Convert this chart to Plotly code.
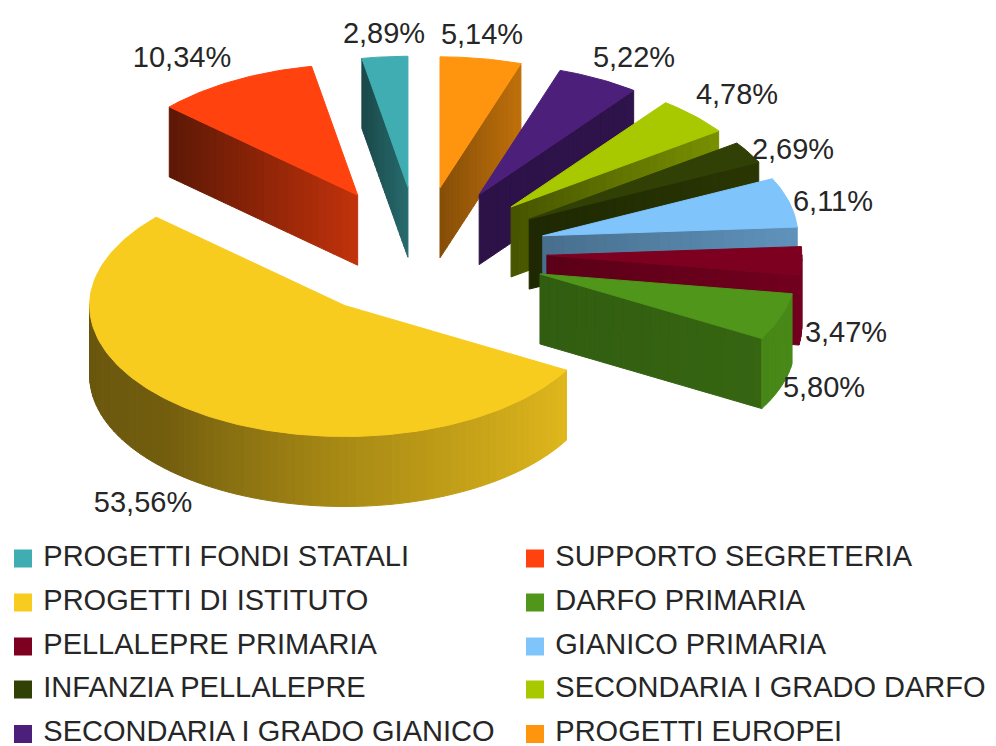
import math
import numpy as np
import plotly.graph_objects as go

# --- data (counter-clockwise from 12 o'clock) ---
categories = ["PROGETTI FONDI STATALI", "SUPPORTO SEGRETERIA", "PROGETTI DI ISTITUTO",
              "DARFO PRIMARIA", "PELLALEPRE PRIMARIA", "GIANICO PRIMARIA",
              "INFANZIA PELLALEPRE", "SECONDARIA I GRADO DARFO",
              "SECONDARIA I GRADO GIANICO", "PROGETTI EUROPEI"]
values = [2.89, 10.34, 53.56, 5.80, 3.47, 6.11, 2.69, 4.78, 5.22, 5.14]

# --- styles ---
colors = ["#3fadb1", "#ff420e", "#f8cb1f", "#4f961a", "#7e0021",
          "#7fc4fb", "#314004", "#a8c800", "#4b1f7a", "#ff950e"]
# wall shade near the apex and at the rim
wall_shade = [(0.62, 0.42), (0.76, 0.36), (0.5, 0.5), (0.62, 0.68), (0.72, 0.9),
              (0.56, 0.75), (0.62, 0.85), (0.42, 0.72), (0.58, 0.62), (0.52, 0.75)]
draw_order = [0, 9, 1, 8, 7, 6, 5, 4, 3, 2]

label_x = [384, 182, 143, 824, 846, 833, 793, 737, 634, 482]
label_y = [36, 60, 505, 390, 335, 204, 152, 97, 60, 37]

# --- projection of the tilted pie, in pixel-scaled axis units ---
CX, CY, RX, RY, PULL, DEPTH = 419.5, 252.5, 255.0, 131.0, 0.5, 70.0
STRIPS = 24


def mix(hex_color, k):
    r, g, b = (int(hex_color[i:i + 2], 16) for i in (1, 3, 5))
    return f"rgb({r * k:.0f},{g * k:.0f},{b * k:.0f})"


def rim_shade(deg):
    return float(np.interp(deg % 360, [180, 225, 270, 300, 330, 360], [0.42, 0.46, 0.68, 0.8, 0.9, 0.92]))


fig = go.Figure()


def poly(xs, ys, color):
    fig.add_trace(go.Scatter(x=list(xs) + [xs[0]], y=list(ys) + [ys[0]], mode="lines", fill="toself",
                             fillcolor=color, line=dict(color=color, width=1),
                             hoverinfo="skip", showlegend=False))


def pt(ax, ay, deg, r=1.0):
    t = math.radians(deg)
    return ax + r * RX * math.cos(t), ay - r * RY * math.sin(t)


spans = []
a = 90.0
for v in values:
    b = a + v * 3.6
    spans.append((a, b))
    a = b

for i in draw_order:
    a0, a1 = spans[i]
    mid = math.radians((a0 + a1) / 2)
    ax = CX + PULL * RX * math.cos(mid)
    ay = CY - PULL * RY * math.sin(mid)
    base = colors[i]
    s_apex, s_rim = wall_shade[i]

    def radial_wall(deg):
        for k in range(STRIPS):
            r0, r1 = k / STRIPS, (k + 1) / STRIPS
            p0 = pt(ax, ay, deg, r0)
            p1 = pt(ax, ay, deg, r1)
            shade = s_apex + (s_rim - s_apex) * (k + 0.5) / STRIPS
            poly([p0[0], p1[0], p1[0], p0[0]], [p0[1], p1[1], p1[1] + DEPTH, p0[1] + DEPTH], mix(base, shade))

    if math.cos(math.radians(a0)) > 1e-6:   # clockwise-side wall faces the viewer
        radial_wall(a0)
    if math.cos(math.radians(a1)) < -1e-6:  # counter-clockwise-side wall faces the viewer
        radial_wall(a1)

    # rim wall, only where the rim faces the viewer
    deg = np.linspace(a0, a1, max(3, int((a1 - a0) / 2) + 2))
    for d0, d1 in zip(deg[:-1], deg[1:]):
        if math.sin(math.radians((d0 + d1) / 2)) < 0:
            p0 = pt(ax, ay, d0)
            p1 = pt(ax, ay, d1)
            poly([p0[0], p1[0], p1[0], p0[0]], [p0[1], p1[1], p1[1] + DEPTH, p0[1] + DEPTH],
                 mix(base, rim_shade((d0 + d1) / 2)))

    # top face
    arc = np.linspace(a0, a1, max(3, int(a1 - a0) + 2))
    top = [pt(ax, ay, d) for d in arc]
    poly([ax] + [p[0] for p in top], [ay] + [p[1] for p in top], base)

# percentage labels
texts = [f"{v:.2f}%".replace(".", ",") for v in values]
fig.add_trace(go.Scatter(x=label_x, y=label_y, text=texts, mode="text", textposition="middle center",
                         textfont=dict(family="Liberation Sans", size=29, color="#262626"),
                         hoverinfo="skip", showlegend=False))

# legend, two columns reading left to right
legend_rows = [558.5, 602.5, 646.5, 689.5, 734]
legend_cols = [23, 535]
leg_x = [legend_cols[k % 2] for k in range(len(categories))]
leg_y = [legend_rows[k // 2] for k in range(len(categories))]
fig.add_trace(go.Scatter(x=leg_x, y=leg_y, mode="markers+text", text=[" " + c for c in categories],
                         textposition="middle right",
                         marker=dict(symbol="square", size=18, color=colors, line=dict(width=0)),
                         textfont=dict(family="Liberation Sans", size=29, color="#262626"),
                         hoverinfo="skip", showlegend=False, cliponaxis=False))

fig.update_layout(width=996, height=746, margin=dict(l=0, r=0, t=0, b=0), autosize=False,
                  paper_bgcolor="white", plot_bgcolor="white", showlegend=False,
                  xaxis=dict(range=[0, 996], visible=False, fixedrange=True),
                  yaxis=dict(range=[746, 0], visible=False, fixedrange=True))
fig.write_html("out.html", config={"displayModeBar": False},
               post_script="document.body.style.margin='0';document.body.style.overflow='hidden';")
